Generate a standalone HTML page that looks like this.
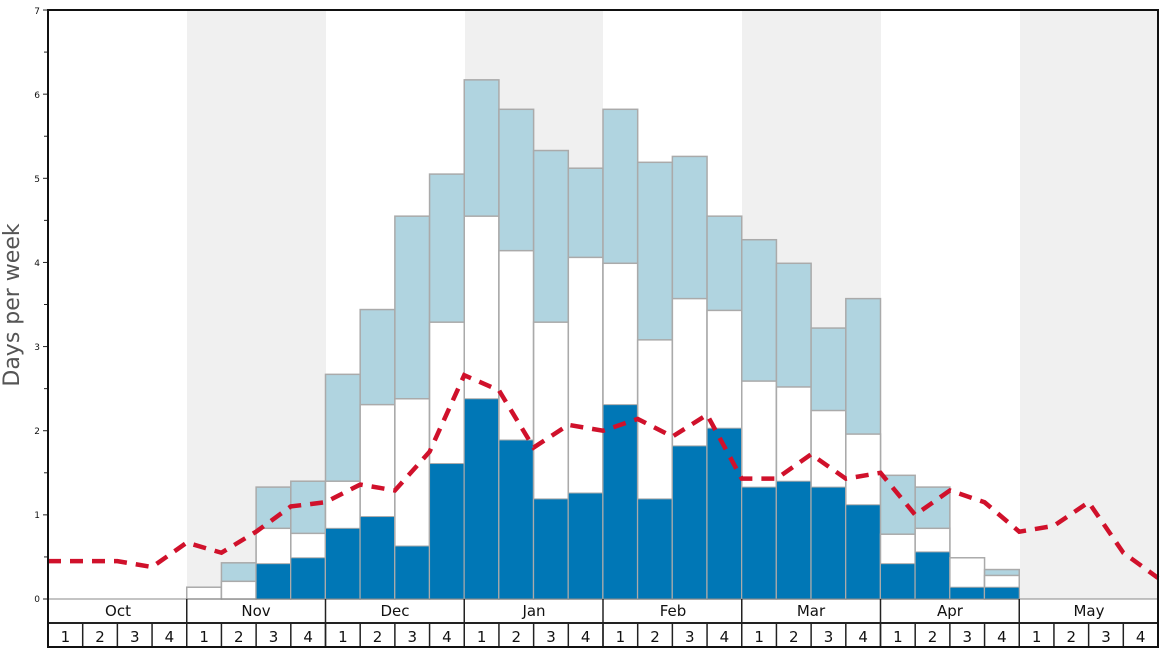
<!DOCTYPE html>
<html><head><meta charset="utf-8"><style>
html,body{margin:0;padding:0;background:#fff;}
svg{display:block;font-family:"DejaVu Sans","Liberation Sans",sans-serif;}
</style></head><body>
<svg id="c" width="1168" height="648" viewBox="0 0 1168 648" xmlns="http://www.w3.org/2000/svg">
<rect x="187" y="10" width="139" height="589" fill="#f0f0f0"/>
<rect x="465" y="10" width="138" height="589" fill="#f0f0f0"/>
<rect x="742" y="10" width="139" height="589" fill="#f0f0f0"/>
<rect x="1020" y="10" width="138" height="589" fill="#f0f0f0"/>
<g id="bars"></g>
<polyline id="ln" fill="none" stroke="#d0112b" stroke-width="4.5" stroke-dasharray="13,9"/>
<g id="ax" stroke="#222" stroke-width="1"></g>
<g font-size="9" fill="#111" text-anchor="end">
<text x="40" y="602">0</text><text x="40" y="518">1</text><text x="40" y="434">2</text><text x="40" y="350">3</text><text x="40" y="266">4</text><text x="40" y="182">5</text><text x="40" y="98">6</text><text x="40" y="14">7</text>
</g>
<text transform="translate(19,305) rotate(-90)" font-size="22" fill="#555" text-anchor="middle">Days per week</text>
<g font-size="15" fill="#111" text-anchor="middle">
<text x="118" y="616">Oct</text><text x="256" y="616">Nov</text><text x="395" y="616">Dec</text><text x="534" y="616">Jan</text><text x="673" y="616">Feb</text><text x="811" y="616">Mar</text><text x="950" y="616">Apr</text><text x="1089" y="616">May</text>
</g>
<g id="wk" font-size="15" fill="#111" text-anchor="middle"></g>
<rect x="48" y="10" width="1110" height="637" fill="none" stroke="#111" stroke-width="2"/>
</svg>
<script>
var X0=48,W=1110/32,Y0=599,S=84.14;
function y(v){return Y0-v*S;}
var d=[[0,0,0],[0,0,0],[0,0,0],[0,0,0],[0,.14,0],[0,.21,.43],[.42,.84,1.33],[.49,.78,1.40],[.84,1.40,2.67],[.98,2.31,3.44],[.63,2.38,4.55],[1.61,3.29,5.05],[2.38,4.55,6.17],[1.89,4.14,5.82],[1.19,3.29,5.33],[1.26,4.06,5.12],[2.31,3.99,5.82],[1.19,3.08,5.19],[1.82,3.57,5.26],[2.03,3.43,4.55],[1.33,2.59,4.27],[1.40,2.52,3.99],[1.33,2.24,3.22],[1.12,1.96,3.57],[.42,.77,1.47],[.56,.84,1.33],[.14,.49,0],[.14,.28,.35]];
var h='';
d.forEach(function(r,i){var x=X0+i*W;
 if(r[2]>0)h+='<rect x="'+x+'" y="'+y(r[2])+'" width="'+W+'" height="'+r[2]*S+'" fill="#b0d4e0" stroke="#aaa" stroke-width="1.5"/>';
 if(r[1]>0)h+='<rect x="'+x+'" y="'+y(r[1])+'" width="'+W+'" height="'+r[1]*S+'" fill="#fff" stroke="#aaa" stroke-width="1.5"/>';
 if(r[0]>0)h+='<rect x="'+x+'" y="'+y(r[0])+'" width="'+W+'" height="'+r[0]*S+'" fill="#0077b6" stroke="#aaa" stroke-width="1"/>';
});
document.getElementById('bars').innerHTML=h;
var L=[.45,.45,.45,.38,.67,.55,.8,1.1,1.15,1.36,1.29,1.75,2.66,2.48,1.8,2.07,2.0,2.14,1.93,2.19,1.43,1.43,1.72,1.43,1.5,1.0,1.29,1.15,.8,.87,1.15,.55,.25];
document.getElementById('ln').setAttribute('points',L.map(function(v,i){return (X0+i*W)+','+y(v)}).join(' '));
var a='';
for(var k=0;k<=14;k++){var yy=y(k/2);a+='<line x1="'+(k%2?44:43)+'" y1="'+yy+'" x2="48" y2="'+yy+'"/>';}
a+='<line x1="48" y1="599" x2="1158" y2="599" stroke="#888"/>';
a+='<line x1="48" y1="623" x2="1158" y2="623" stroke-width="2"/>';
for(var m=1;m<8;m++){var x=X0+m*4*W;a+='<line x1="'+x+'" y1="599" x2="'+x+'" y2="647" stroke-width="1.5"/>';}
for(var i=1;i<32;i++){var x=X0+i*W;a+='<line x1="'+x+'" y1="623" x2="'+x+'" y2="647" stroke-width="1.5"/>';}
document.getElementById('ax').innerHTML=a;
var w='';for(var i=0;i<32;i++){w+='<text x="'+(X0+i*W+W/2)+'" y="642">'+(i%4+1)+'</text>';}
document.getElementById('wk').innerHTML=w;
</script>
</body></html>
